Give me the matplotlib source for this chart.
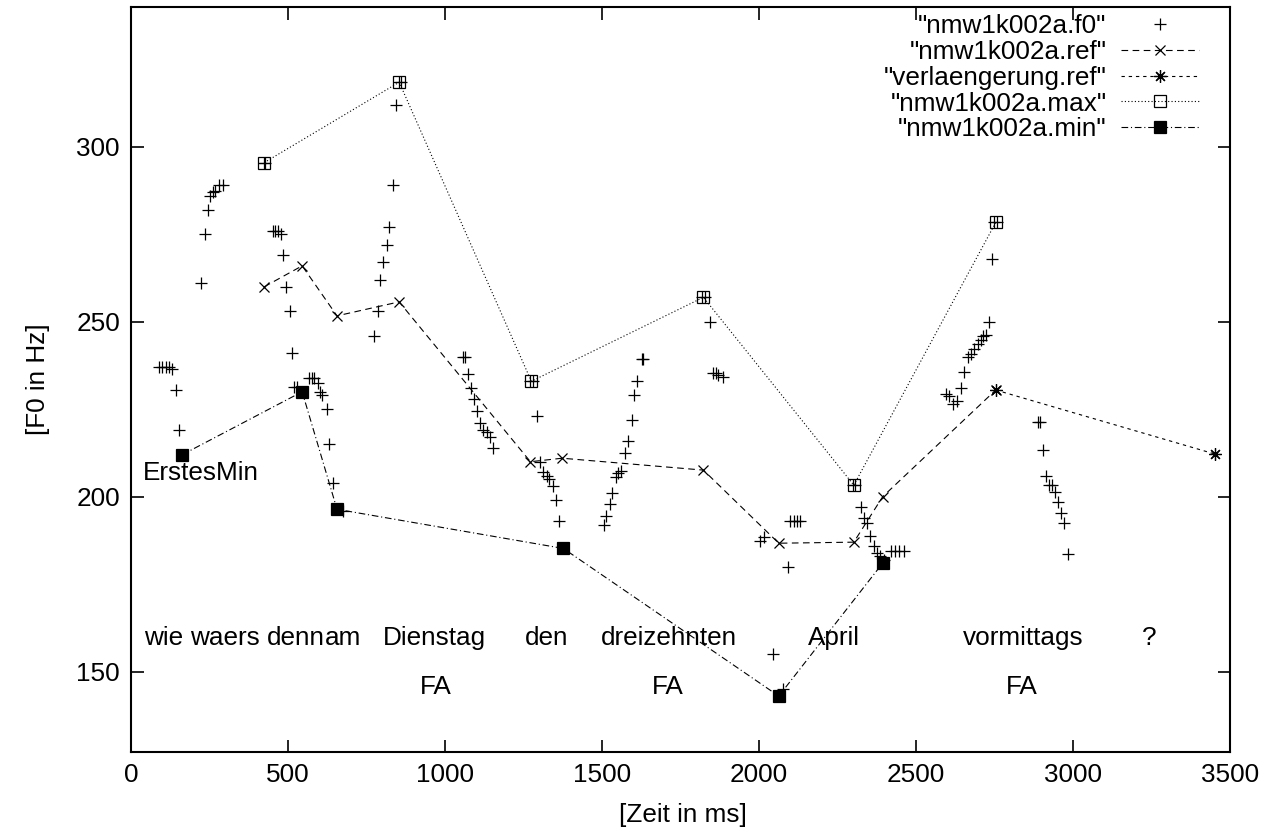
#!/usr/bin/env python3
"""F0 contour of nmw1k002a with reference line, maxima and minima (gnuplot look)."""

import matplotlib

matplotlib.use("Agg")
import matplotlib.pyplot as plt

plt.rcParams["font.family"] = ["Liberation Sans", "DejaVu Sans"]
FS = 18.8

# f0 track (ms, Hz)
F0_MS = [
    90, 100, 110, 120, 132, 143, 153,
    223, 236, 245, 252, 261, 268, 281, 293,
    422, 428, 453, 459, 468, 478, 484, 494, 506, 514, 520, 529,
    567, 577, 584, 596, 602, 609, 625, 631, 644, 675,
    775, 785, 794, 804, 814, 823, 835, 845, 852, 860,
    1058, 1065, 1074, 1084, 1093, 1103, 1113, 1122, 1135, 1144, 1154,
    1272, 1280, 1294, 1304, 1313, 1326, 1332, 1345, 1355, 1364,
    1505, 1514, 1524, 1533, 1546, 1552, 1562, 1572, 1584, 1594, 1603, 1613, 1626, 1632,
    1820, 1828, 1843, 1855, 1862, 1871, 1884,
    2002, 2015, 2044, 2075, 2091, 2100, 2110, 2120, 2130,
    2300, 2306, 2324, 2334, 2343, 2353, 2365, 2375, 2384, 2397, 2420, 2432, 2445, 2461,
    2595, 2604, 2617, 2630, 2643, 2652, 2665, 2675, 2684, 2697, 2706, 2713, 2722, 2732, 2741, 2750, 2758,
    2888, 2895, 2904, 2914, 2923, 2933, 2942, 2952, 2961, 2971, 2984,
]
F0_HZ = [
    237, 237, 237, 237, 236.5, 230.5, 219,
    261, 275, 282, 286, 287, 287.5, 289, 289,
    295.5, 295.5, 276, 276, 276, 275, 269, 260, 253, 241, 231.4, 231.4,
    234, 234, 234, 232.5, 230, 229, 225, 215, 204, 196,
    246, 253, 262, 267, 272, 277, 289, 312, 318.5, 318.5,
    240, 240, 235, 231, 228, 224.5, 221, 219, 218.5, 217, 214,
    233, 233, 223, 210, 207, 206, 205, 203, 199, 193,
    192, 194.4, 198, 201, 205.6, 206.7, 207.3, 212.5, 216, 222, 229, 233, 239.4, 239.4,
    257, 257, 250, 235.4, 235.4, 234.8, 234.2,
    187.2, 188.4, 155, 145, 180, 193, 193, 193, 193,
    203.3, 203.3, 197, 194, 192.4, 188.7, 186, 184, 183, 182, 184.5, 184.5, 184.5, 184.5,
    229.4, 228.8, 226.5, 227.4, 231, 235.7, 240, 240.8, 242.3, 243.7, 244.8, 246, 246.3, 250, 268, 278.4, 278.4,
    221.3, 221.3, 213.3, 206, 203.3, 203.3, 201.3, 198.4, 195.3, 192.4, 183.5,
]

REF_MS = [424, 545, 656, 854, 1272, 1373, 1823, 2063, 2302, 2394, 2754]
REF_HZ = [260, 266, 251.7, 255.7, 210, 211, 207.6, 186.7, 187, 200, 230.5]

EXT_MS = [2754, 3452]
EXT_HZ = [230.5, 212.2]

MAX_MS = [424, 854, 1275, 1823, 2302, 2754]
MAX_HZ = [295.5, 318.5, 233, 257, 203.3, 278.4]

MIN_MS = [163, 545, 656, 1377, 2063, 2394]
MIN_HZ = [212, 230, 196.4, 185.2, 143, 181]

WORDS = ["wie", "waers", "denn", "am", "Dienstag", "den", "dreizehnten", "April", "vormittags", "?"]
WORD_MS = [40, 188, 434, 616, 803, 1253, 1498, 2155, 2649, 3220]
WORD_HZ = 157.6
FA_MS = [920, 1660, 2785]
FA_HZ = 143.5
FIRST_MIN_MS = 37
FIRST_MIN_HZ = 204.7

X_TICKS = [0, 500, 1000, 1500, 2000, 2500, 3000, 3500]
Y_TICKS = [150, 200, 250, 300]


def main() -> None:
    fig = plt.figure(figsize=(12.71, 8.33), dpi=100)
    ax = fig.add_axes([0.1031, 0.0972, 0.8646, 0.8944])

    lw = 0.8
    ax.plot(F0_MS, F0_HZ, ls="none", marker="+", ms=8, mew=0.9, color="black",
            label='"nmw1k002a.f0"')
    ax.plot(REF_MS, REF_HZ, color="black", lw=lw, dashes=(6, 4), marker="x", ms=7, mew=0.9,
            label='"nmw1k002a.ref"')
    ax.plot(EXT_MS, EXT_HZ, color="black", lw=lw, dashes=(3, 3.5), marker=(8, 2, 0), ms=9, mew=0.9,
            label='"verlaengerung.ref"')
    ax.plot(MAX_MS, MAX_HZ, color="black", lw=lw, dashes=(1, 2), marker="s", ms=8, mew=0.9,
            mfc="none", label='"nmw1k002a.max"')
    ax.plot(MIN_MS, MIN_HZ, color="black", lw=lw, dashes=(6, 2.5, 1, 2.5), marker="s", ms=8,
            mew=0.9, mfc="black", label='"nmw1k002a.min"')

    for word, ms in zip(WORDS, WORD_MS):
        ax.text(ms, WORD_HZ, word, fontsize=FS, ha="left", va="baseline")
    for ms in FA_MS:
        ax.text(ms, FA_HZ, "FA", fontsize=FS, ha="left", va="baseline")
    ax.text(FIRST_MIN_MS, FIRST_MIN_HZ, "ErstesMin", fontsize=FS, ha="left", va="baseline")

    ax.set_xlim(0, 3500)
    ax.set_ylim(127, 340)
    ax.set_xticks(X_TICKS)
    ax.set_yticks(Y_TICKS)
    ax.tick_params(direction="in", length=9, width=1.2, top=True, right=True,
                   labelsize=FS, pad=8)
    for sp in ax.spines.values():
        sp.set_linewidth(1.5)

    ax.set_xlabel("[Zeit in ms]", fontsize=FS)
    ax.set_ylabel("[F0 in Hz]", fontsize=FS)
    ax.xaxis.set_label_coords(0.502, -0.085)
    ax.xaxis.label.set_va("center")
    ax.yaxis.set_label_coords(-0.085, 0.5)
    ax.yaxis.label.set_va("center")

    ax.legend(loc="upper right", bbox_to_anchor=(0.9718, 0.990), frameon=False,
              markerfirst=False, fontsize=FS, handlelength=3.0, handletextpad=0.54,
              labelspacing=0.065, borderpad=0, borderaxespad=0, numpoints=1)

    fig.savefig("out.png", dpi=100)


if __name__ == "__main__":
    main()
